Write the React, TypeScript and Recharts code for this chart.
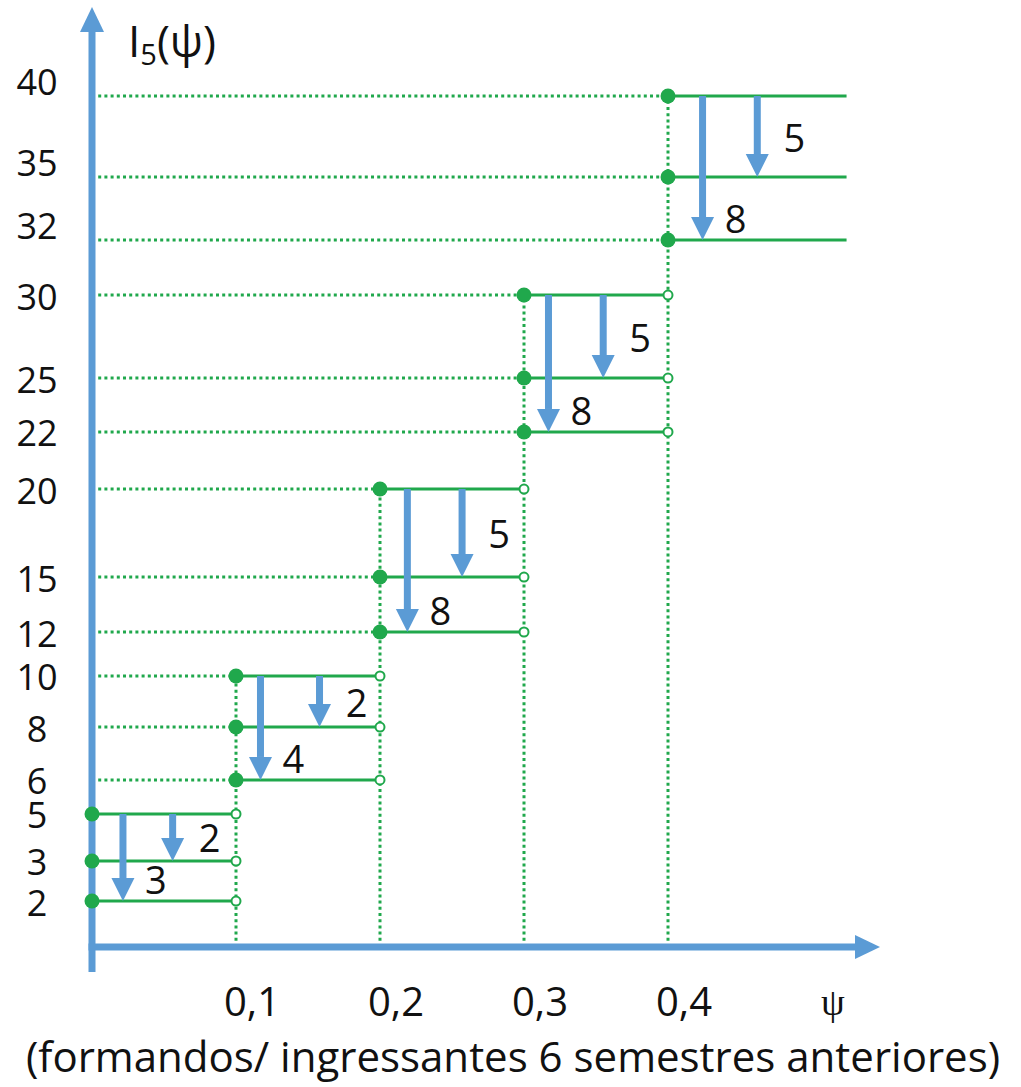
import React from 'react';
import { ComposedChart, XAxis, YAxis, Scatter, ReferenceLine } from 'recharts';

// ---- data ----
const intervalStart = [0, 0.1, 0.2, 0.3, 0.4];
const intervalEnd = [0.1, 0.2, 0.3, 0.4, 0.524];
const topLevel = [5, 10, 20, 30, 40];
const midLevel = [3, 8, 15, 25, 35];
const lowLevel = [2, 6, 12, 22, 32];
const bigDrop = [3, 4, 8, 8, 8];
const smallDrop = [2, 2, 5, 5, 5];
const bigArrowX = [0.0215, 0.117, 0.219, 0.317, 0.424];
const smallArrowX = [0.056, 0.158, 0.257, 0.355, 0.462];
const yTickValues = [2, 3, 5, 6, 8, 10, 12, 15, 20, 22, 25, 30, 32, 35, 40];
const xTickValues = [0.1, 0.2, 0.3, 0.4];
const xTickLabels = ['0,1', '0,2', '0,3', '0,4'];

// uneven vertical spacing of the original axis: value -> fraction of axis height
const Y_KNOTS: [number, number][] = [
  [0, 0], [2, 0.0489], [3, 0.0915], [5, 0.1415], [6, 0.1777], [8, 0.234],
  [10, 0.2883], [12, 0.3351], [15, 0.3936], [20, 0.4872], [22, 0.5479],
  [25, 0.6053], [30, 0.6936], [32, 0.7521], [35, 0.8191], [40, 0.9053], [44, 1],
];

const GREEN = '#20A84C';
const BLUE = '#5B9BD5';
const SANS = '"Open Sans", sans-serif';
const SERIF = '"Liberation Serif", "DejaVu Serif", serif';

function interp(v: number): number {
  const k = Y_KNOTS;
  let i = 0;
  if (v <= k[0][0]) i = 0;
  else if (v >= k[k.length - 1][0]) i = k.length - 2;
  else {
    while (i < k.length - 2 && v > k[i + 1][0]) i++;
  }
  const [a0, f0] = k[i];
  const [a1, f1] = k[i + 1];
  return f0 + ((v - a0) * (f1 - f0)) / (a1 - a0);
}
function uninterp(f: number): number {
  const k = Y_KNOTS;
  let i = 0;
  if (f <= k[0][1]) i = 0;
  else if (f >= k[k.length - 1][1]) i = k.length - 2;
  else {
    while (i < k.length - 2 && f > k[i + 1][1]) i++;
  }
  const [a0, f0] = k[i];
  const [a1, f1] = k[i + 1];
  return a0 + ((f - f0) * (a1 - a0)) / (f1 - f0);
}

function piecewiseScale(): any {
  let dom = [0, 44];
  let rng = [0, 1];
  const s: any = (v: any) => {
    const f0 = interp(dom[0]);
    const f1 = interp(dom[1]);
    const t = (interp(Number(v)) - f0) / (f1 - f0);
    return rng[0] + t * (rng[1] - rng[0]);
  };
  s.domain = (d?: any) => {
    if (d === undefined) return dom.slice();
    dom = [Number(d[0]), Number(d[d.length - 1])];
    return s;
  };
  s.range = (r?: any) => {
    if (r === undefined) return rng.slice();
    rng = [Number(r[0]), Number(r[r.length - 1])];
    return s;
  };
  s.copy = () => piecewiseScale().domain(dom).range(rng);
  s.ticks = () => yTickValues.slice();
  s.tickFormat = () => (v: any) => String(v);
  s.invert = (px: number) => {
    const f0 = interp(dom[0]);
    const f1 = interp(dom[1]);
    const t = (px - rng[0]) / (rng[1] - rng[0]);
    return uninterp(f0 + t * (f1 - f0));
  };
  s.clamp = () => s;
  s.nice = () => s;
  return s;
}
const yScale = piecewiseScale();

// ---- derived tables for the library ----
const filledPoints: { x: number; y: number }[] = [];
const openPoints: { x: number; y: number }[] = [];
intervalStart.forEach((x0, i) => {
  [topLevel[i], midLevel[i], lowLevel[i]].forEach((lv) => {
    filledPoints.push({ x: x0, y: lv });
    if (i < intervalStart.length - 1) openPoints.push({ x: intervalEnd[i], y: lv });
  });
});

const makeArrow = (label: number, kind: 'big' | 'small') => (p: any) => {
  const x = Number(p.x1);
  const top = Math.min(Number(p.y1), Number(p.y2));
  const bot = Math.max(Number(p.y1), Number(p.y2));
  const head = 23;
  const lx = kind === 'big' ? x + 33 : x + 37;
  const ly = kind === 'big' ? bot - 22 : (top + bot) / 2;
  return (
    <g>
      <rect x={x - 3.5} y={top} width={7} height={Math.max(0, bot - top - head)} fill={BLUE} />
      <polygon points={`${x - 11.5},${bot - head} ${x + 11.5},${bot - head} ${x},${bot}`} fill={BLUE} />
      <text x={lx} y={ly} textAnchor="middle" dominantBaseline="central" fontSize={38} fontFamily={SANS} fill="#111">
        {label}
      </text>
    </g>
  );
};

const yAxisArrow = (p: any) => {
  const x = Number(p.x1);
  const bot = Math.max(Number(p.y1), Number(p.y2));
  const top = Math.min(Number(p.y1), Number(p.y2));
  return (
    <g>
      <rect x={x - 3.5} y={top + 25} width={7} height={bot - top} fill={BLUE} />
      <polygon points={`${x - 12},${top + 25} ${x + 12},${top + 25} ${x},${top}`} fill={BLUE} />
    </g>
  );
};

const xAxisArrow = (p: any) => {
  const y = Number(p.y1);
  const left = Math.min(Number(p.x1), Number(p.x2));
  const right = Math.max(Number(p.x1), Number(p.x2)) - 4;
  return (
    <g>
      <rect x={left - 3.5} y={y - 3.5} width={right - 25 - left + 3.5} height={7} fill={BLUE} />
      <polygon points={`${right - 25},${y - 12} ${right - 25},${y + 12} ${right},${y}`} fill={BLUE} />
    </g>
  );
};

const YTick = (props: any) => {
  const { y, payload } = props;
  const v = Number(payload.value);
  const dy = v >= 32 ? -15 : 1;
  return (
    <text x={37} y={Number(y) + dy} textAnchor="middle" dominantBaseline="central" fontSize={36} fontFamily={SANS} fill="#111">
      {v}
    </text>
  );
};

const XTick = (props: any) => {
  const { x, payload } = props;
  const idx = xTickValues.indexOf(Number(payload.value));
  return (
    <text x={Number(x) + 16} y={1016} textAnchor="middle" fontSize={40} fontFamily={SANS} fill="#111">
      {idx >= 0 ? xTickLabels[idx] : String(payload.value)}
    </text>
  );
};

export default function App() {
  const dotted: React.ReactNode[] = [];
  intervalStart.forEach((x0, i) => {
    if (x0 > 0) {
      [topLevel[i], midLevel[i], lowLevel[i]].forEach((lv, j) => {
        dotted.push(
          <ReferenceLine
            key={`dh-${i}-${j}`}
            segment={[{ x: 0, y: lv }, { x: x0, y: lv }]}
            stroke={GREEN}
            strokeWidth={3}
            strokeDasharray="3 3.2"
          />
        );
      });
      dotted.push(
        <ReferenceLine
          key={`dv-${i}`}
          segment={[{ x: x0, y: 0 }, { x: x0, y: topLevel[i] }]}
          stroke={GREEN}
          strokeWidth={3}
          strokeDasharray="3 3.2"
        />
      );
    }
  });

  const solid: React.ReactNode[] = [];
  intervalStart.forEach((x0, i) => {
    [topLevel[i], midLevel[i], lowLevel[i]].forEach((lv, j) => {
      solid.push(
        <ReferenceLine
          key={`s-${i}-${j}`}
          segment={[{ x: x0, y: lv }, { x: intervalEnd[i], y: lv }]}
          stroke={GREEN}
          strokeWidth={3}
        />
      );
    });
  });

  const arrows: React.ReactNode[] = [];
  intervalStart.forEach((_, i) => {
    arrows.push(
      <ReferenceLine
        key={`ab-${i}`}
        segment={[{ x: bigArrowX[i], y: topLevel[i] }, { x: bigArrowX[i], y: lowLevel[i] }]}
        shape={makeArrow(bigDrop[i], 'big')}
      />
    );
    arrows.push(
      <ReferenceLine
        key={`as-${i}`}
        segment={[{ x: smallArrowX[i], y: topLevel[i] }, { x: smallArrowX[i], y: midLevel[i] }]}
        shape={makeArrow(smallDrop[i], 'small')}
      />
    );
  });

  return (
    <div style={{ position: 'absolute', left: 0, top: 0, width: 1021, height: 1087, background: '#fff' }}>
      <ComposedChart
        width={1021}
        height={1087}
        margin={{ top: 7, right: 137, bottom: 0, left: 0 }}
      >
        <XAxis
          type="number"
          dataKey="x"
          domain={[0, 0.55]}
          ticks={xTickValues}
          axisLine={false}
          tickLine={false}
          height={140}
          tick={<XTick />}
          interval={0}
        />
        <YAxis
          type="number"
          dataKey="y"
          domain={[0, 44]}
          scale={yScale}
          ticks={yTickValues}
          axisLine={false}
          tickLine={false}
          width={92}
          tick={<YTick />}
          interval={0}
        />
        {dotted}
        {solid}
        {arrows}
        <ReferenceLine segment={[{ x: 0, y: 0 }, { x: 0, y: 44 }]} shape={yAxisArrow} />
        <ReferenceLine segment={[{ x: 0, y: 0 }, { x: 0.55, y: 0 }]} shape={xAxisArrow} />
        <Scatter
          data={openPoints}
          isAnimationActive={false}
          shape={(p: any) => <circle cx={p.cx} cy={p.cy} r={4.5} fill="#fff" stroke={GREEN} strokeWidth={2} />}
        />
        <Scatter
          data={filledPoints}
          isAnimationActive={false}
          shape={(p: any) => <circle cx={p.cx} cy={p.cy} r={7.5} fill={GREEN} />}
        />
        <text x={128} y={57} fontSize={44} fontFamily={SANS} fill="#111">
          I<tspan fontSize={29} dy={8}>5</tspan>
          <tspan dy={-8}>(ψ)</tspan>
        </text>
        <text x={833} y={1015} textAnchor="middle" fontSize={38} fontFamily={SERIF} fill="#111">
          ψ
        </text>
        <text x={513} y={1072} textAnchor="middle" fontSize={42} fontFamily={SANS} fill="#111">
          (formandos/ ingressantes 6 semestres anteriores)
        </text>
      </ComposedChart>
    </div>
  );
}
